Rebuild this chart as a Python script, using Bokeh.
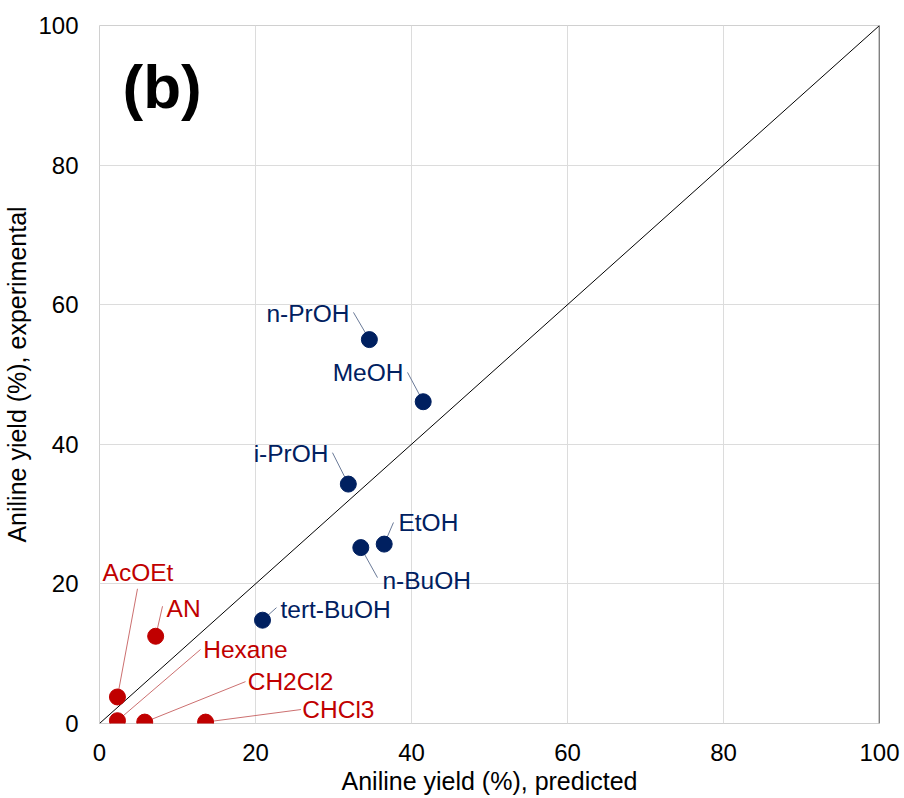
from bokeh.plotting import figure
from bokeh.models import ColumnDataSource, Span, Range1d, FixedTicker
from bokeh.embed import file_html
from bokeh.resources import INLINE
from bokeh.core.properties import value

# ---- data -------------------------------------------------------------
# alcohols (dark blue)
alc_names = ["n-PrOH", "MeOH", "i-PrOH", "EtOH", "n-BuOH", "tert-BuOH"]
alc_pred = [34.6, 41.5, 31.9, 36.5, 33.5, 20.9]
alc_exp = [55.0, 46.1, 34.3, 25.7, 25.2, 14.8]

# other solvents (red)
oth_names = ["AN", "AcOEt", "Hexane", "CH2Cl2", "CHCl3"]
oth_pred = [7.2, 2.3, 2.3, 5.8, 13.6]
oth_exp = [12.5, 3.8, 0.4, 0.2, 0.2]

# parity line
parity = [0, 100]
ticks = [0, 20, 40, 60, 80, 100]

# label annotation placement (data units)
alc_text_x = [32.05, 38.97, 29.36, 38.33, 36.28, 23.2]
alc_text_y = [58.7, 50.3, 38.75, 28.8, 20.5, 16.3]
alc_align = ["right", "right", "right", "left", "left", "left"]
alc_lead_x = [32.56, 39.49, 29.87, 37.69, 35.64, 22.69]
alc_lead_y = [58.9, 50.3, 38.8, 28.8, 20.9, 16.6]

oth_text_x = [8.6, 0.4, 13.3, 19.0, 26.0]
oth_text_y = [16.5, 21.6, 10.6, 6.0, 2.0]
oth_align = ["left", "left", "left", "left", "left"]
oth_lead_x = [8.08, 4.87, 12.95, 18.72, 25.83]
oth_lead_y = [16.8, 19.3, 10.6, 6.0, 2.0]

BLUE = "#002060"
RED = "#C00000"
FONT = "Liberation Sans"

p = figure(width=904, height=798,
           x_range=Range1d(0, 100), y_range=Range1d(0, 100),
           output_backend="svg", toolbar_location=None,
           min_border_left=99, min_border_right=25,
           min_border_top=25, min_border_bottom=75)

p.background_fill_color = "white"
p.border_fill_color = "white"
p.outline_line_color = "#D0D0D0"
p.outline_line_width = 1

for ax in (p.xaxis[0], p.yaxis[0]):
    ax.ticker = FixedTicker(ticks=ticks)
    ax.axis_line_color = None
    ax.major_tick_line_color = None
    ax.minor_tick_line_color = None
    ax.major_tick_out = 0
    ax.major_tick_in = 0
    ax.major_label_text_font = FONT
    ax.major_label_text_font_size = "24px"
    ax.major_label_text_color = "black"
    ax.axis_label_text_font = FONT
    ax.axis_label_text_font_size = "25px"
    ax.axis_label_text_font_style = "normal"
    ax.axis_label_text_color = "black"

p.xaxis.axis_label = "Aniline yield (%), predicted"
p.yaxis.axis_label = "Aniline yield (%), experimental"
p.xaxis.major_label_standoff = 20
p.xaxis.axis_label_standoff = 3
p.yaxis.major_label_standoff = 21
p.yaxis.axis_label_standoff = 4

p.grid.grid_line_color = "#DCDCDC"
p.grid.grid_line_width = 1
p.xgrid.ticker = FixedTicker(ticks=ticks)
p.ygrid.ticker = FixedTicker(ticks=ticks)

# right frame edge is drawn dark
p.add_layout(Span(location=100, dimension="height", line_color="#333333", line_width=1.5))

# parity line
p.line(parity, parity, line_color="black", line_width=1)

# leader lines
for lx, ly, px, py, col in [(alc_lead_x, alc_lead_y, alc_pred, alc_exp, "#6A7A98"),
                            (oth_lead_x, oth_lead_y, oth_pred, oth_exp, "#CC7070")]:
    p.segment(x0=lx, y0=ly, x1=px, y1=py, line_color=col, line_width=1)

# points
p.scatter(alc_pred, alc_exp, size=16, fill_color=BLUE, line_color=BLUE)
p.scatter(oth_pred, oth_exp, size=16, fill_color=RED, line_color=RED)

# labels
src_a = ColumnDataSource(dict(x=alc_text_x, y=alc_text_y, t=alc_names, a=alc_align))
p.text(x="x", y="y", text="t", text_align="a", source=src_a,
       text_baseline="middle", text_font=value(FONT), text_font_size="24.5px",
       text_color=BLUE)
src_o = ColumnDataSource(dict(x=oth_text_x, y=oth_text_y, t=oth_names, a=oth_align))
p.text(x="x", y="y", text="t", text_align="a", source=src_o,
       text_baseline="middle", text_font=value(FONT), text_font_size="24.5px",
       text_color=RED)

# panel tag
p.text(x=[2.95], y=[91.3], text=["(b)"], text_align="left", text_baseline="middle",
       text_font=value(FONT), text_font_size="62px", text_font_style="bold",
       text_color="black")

open("out.html", "w").write(file_html(p, INLINE))
